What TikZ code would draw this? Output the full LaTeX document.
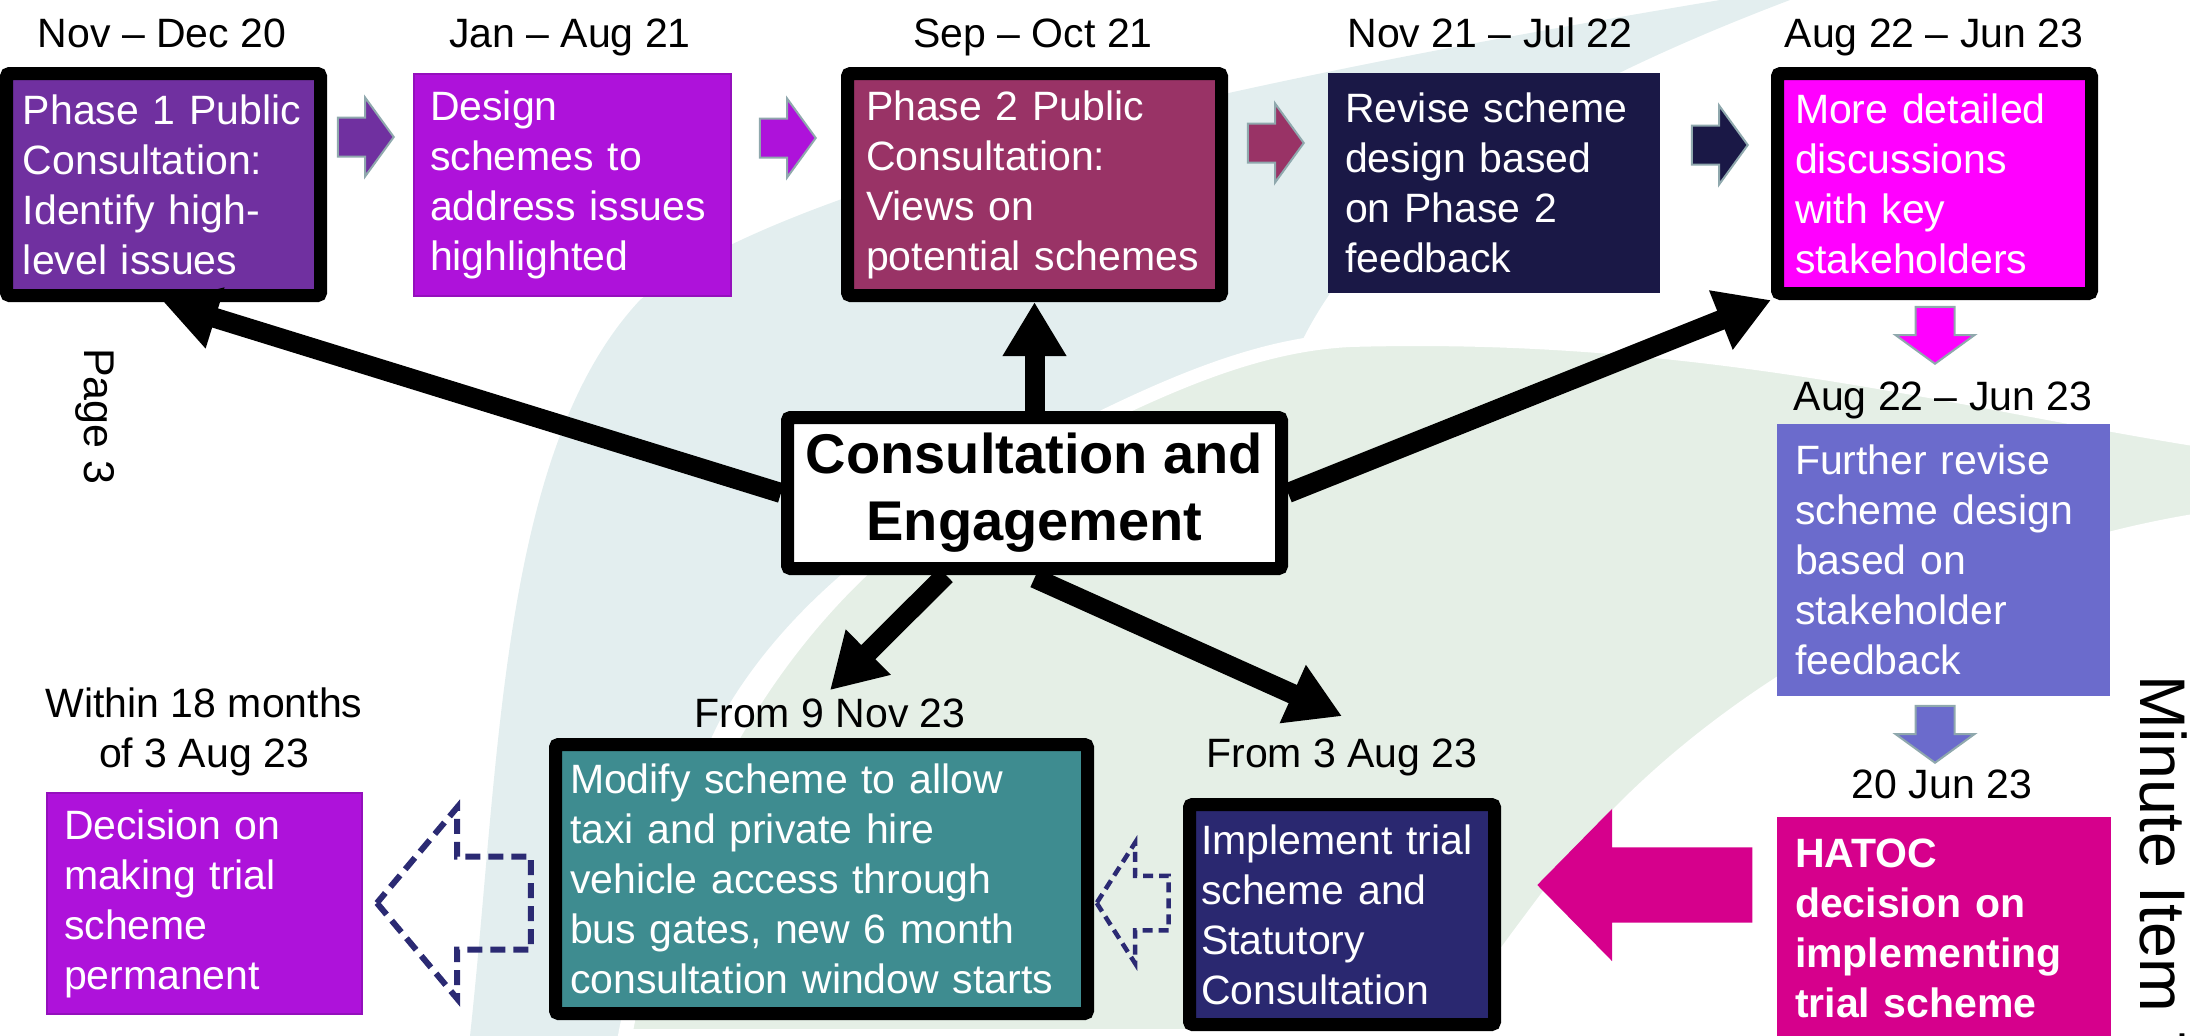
\documentclass[tikz,border=0pt]{standalone}
\usepackage{fontspec}
\setmainfont{Liberation Sans}
\usetikzlibrary{arrows.meta,calc,shapes.arrows}

\definecolor{cpurple}{HTML}{7030A0}
\definecolor{cviolet}{HTML}{AE12DA}
\definecolor{cvioletedge}{HTML}{9410BC}
\definecolor{cwine}{HTML}{993366}
\definecolor{cnavy}{HTML}{1A1846}
\definecolor{cmagenta}{HTML}{FF00FF}
\definecolor{cslate}{HTML}{6B6BCC}
\definecolor{cpink}{HTML}{D6008C}
\definecolor{cindigo}{HTML}{2A2870}
\definecolor{cteal}{HTML}{3E8C90}
\definecolor{cedge}{HTML}{8FA8AD}
\definecolor{cdash}{HTML}{2B2A73}
\definecolor{leafblue}{HTML}{E3EEEF}
\definecolor{leafgreen}{HTML}{E5EFE6}

\tikzset{
  every node/.style={font=\fontsize{41}{50}\selectfont},
  stage/.style={draw=black, line width=13pt, rounded corners=3pt, text=white, align=left, inner sep=2pt},
  flat/.style={text=white, align=left, inner sep=2pt},
  when/.style={anchor=base, inner sep=2pt},
  link/.style={line width=20pt, -{Triangle[length=54pt,width=60pt]}},
  fat/.style={single arrow, inner sep=0pt, inner ysep=18.5pt, anchor=tip, draw=cedge, line width=2pt,
    minimum height=56pt, single arrow head extend=20pt, single arrow tip angle=108},
  hollow/.style={single arrow, inner sep=0pt, anchor=tip, rotate=180, draw=cdash}
}

\begin{document}
\begin{tikzpicture}[x=1pt,y=-1pt]
\useasboundingbox (0,0) rectangle (2190,1036);
\clip (0,0) rectangle (2190,1036);

% faint leaf logo in the back
\fill[leafblue] (470,1036) .. controls (500,760) and (500,450) .. (640,300)
  .. controls (800,170) and (1300,70) .. (1720,0) -- (1790,0)
  .. controls (1500,110) and (1360,220) .. (1300,345)
  .. controls (1050,420) and (820,540) .. (720,720)
  .. controls (670,820) and (640,930) .. (625,1036) -- cycle;
\filldraw[fill=leafgreen, draw=white, line width=14pt] (625,1036)
  .. controls (660,850) and (760,600) .. (1000,470)
  .. controls (1150,390) and (1250,345) .. (1350,340)
  .. controls (1700,330) and (1950,400) .. (2200,440) -- (2200,520)
  .. controls (1950,560) and (1700,700) .. (1560,880)
  .. controls (1500,960) and (1470,1000) .. (1450,1036) -- cycle;

% dates
\node[when] (t1) at (162,47) {Nov -- Dec 20};
\node[when] (t2) at (570,47) {Jan -- Aug 21};
\node[when] (t3) at (1033,47) {Sep -- Oct 21};
\node[when] (t4) at (1490,47) {Nov 21 -- Jul 22};
\node[when] (t5) at (1934,47) {Aug 22 -- Jun 23};
\node[when] (t6) at (1943,410) {Aug 22 -- Jun 23};
\node[when] (t7) at (1942,798) {20 Jun 23};
\node[when] (d3) at (1342,767) {From 3 Aug 23};
\node[when] (d9) at (830,727) {From 9 Nov 23};
\node[anchor=north, align=center, inner sep=2pt] (t8) at (204,686) {Within 18 months\\of 3 Aug 23};

% stages
\node[stage, fill=cpurple, minimum width=314pt, minimum height=222pt, text width=281pt] (ph1) at (163.5,184.5)
  {Phase 1 Public\\Consultation:\\Identify high-\\level issues};
\node[flat, fill=cviolet, draw=cvioletedge, line width=1.5pt, minimum width=317pt, minimum height=222pt, text width=285pt] (des) at (572.5,185)
  {Design\\schemes to\\address issues\\highlighted};
\node[stage, fill=cwine, minimum width=374pt, minimum height=222pt, text width=337pt] (ph2) at (1034.5,184.5)
  {Phase 2 Public\\Consultation:\\Views on\\potential schemes};
\node[flat, fill=cnavy, minimum width=332pt, minimum height=220pt, text width=298pt] (rev) at (1494,183)
  {Revise scheme\\design based\\on Phase 2\\feedback};
\node[stage, fill=cmagenta, minimum width=314pt, minimum height=220pt, text width=279pt] (pd) at (1934.5,183.5)
  {More detailed\\discussions\\with key\\stakeholders};
\node[flat, fill=cslate, minimum width=333pt, minimum height=272pt, text width=297pt] (fur) at (1943.5,560)
  {Further revise\\scheme design\\based on\\stakeholder\\feedback};
\node[flat, fill=cpink, minimum width=334pt, minimum height=223pt, text width=298pt,
  font=\fontsize{41}{50}\selectfont\bfseries] (hat) at (1944,928.5)
  {HATOC\\decision on\\implementing\\trial scheme};
\node[stage, fill=cindigo, minimum width=305pt, minimum height=220pt, text width=282pt] (imp) at (1342,914.5)
  {Implement trial\\scheme and\\Statutory\\Consultation};
\node[stage, fill=cteal, minimum width=532pt, minimum height=269pt, text width=503pt] (mod) at (821.5,879)
  {Modify scheme to allow\\taxi and private hire\\vehicle access through\\bus gates, new 6 month\\consultation window starts};
\node[flat, fill=cviolet, draw=cvioletedge, line width=1.5pt, minimum width=315pt, minimum height=221pt, text width=281pt] (dec) at (204.5,903.5)
  {Decision on\\making trial\\scheme\\permanent};
\node[stage, fill=white, text=black, align=center, minimum width=494pt, minimum height=151pt,
  font=\fontsize{56}{67}\selectfont\bfseries] (hub) at (1034.5,493) {Consultation and\\Engagement};

% block arrows between stages
\node[fat, fill=cpurple] (a1) at (395,137) {};
\node[fat, fill=cviolet] (a2) at (817,138) {};
\node[fat, fill=cwine] (a3) at (1305,143) {};
\node[fat, fill=cnavy] (a4) at (1749,145) {};
\node[fat, fill=cmagenta, rotate=-90, minimum height=57pt] (a5) at (1935,365) {};
\node[fat, fill=cslate, rotate=-90, minimum height=57pt] (a6) at (1935,764) {};
\node[single arrow, inner sep=0pt, inner ysep=37.5pt, single arrow head extend=38.5pt, single arrow tip angle=91,
  minimum height=215pt, fill=cpink, rotate=180, anchor=tip] (a7) at (1537,885) {};
\node[hollow, inner ysep=25pt, single arrow head extend=33pt, single arrow tip angle=115, minimum height=72pt,
  line width=4.5pt, dash pattern=on 10pt off 6pt] (a8) at (1094,903) {};
\node[hollow, inner ysep=43.5pt, single arrow head extend=49pt, single arrow tip angle=100, minimum height=154pt,
  line width=6pt, dash pattern=on 15pt off 8pt] (a9) at (373,903) {};

% side notes
\node[rotate=-90, anchor=base west, inner sep=0pt, font=\fontsize{43}{50}\selectfont] (pg) at (84,348) {Page 3};
\node[rotate=-90, anchor=base west, inner sep=0pt, font=\fontsize{64.5}{78}\selectfont] (mi) at (2140,675) {Minute Item 7};

% links out of the hub
\draw[link] (hub.west) -- (ph1.south);
\draw[link] (hub.north) -- (ph2.south);
\draw[link] (hub.east) -- (pd.south west);
\draw[link] ($(hub.south)!0.35!(hub.south west)$) -- ([yshift=6pt]d9.north);
\draw[link] ([yshift=-3pt]hub.south) -- ([yshift=20pt]d3.north);

\end{tikzpicture}
\end{document}
